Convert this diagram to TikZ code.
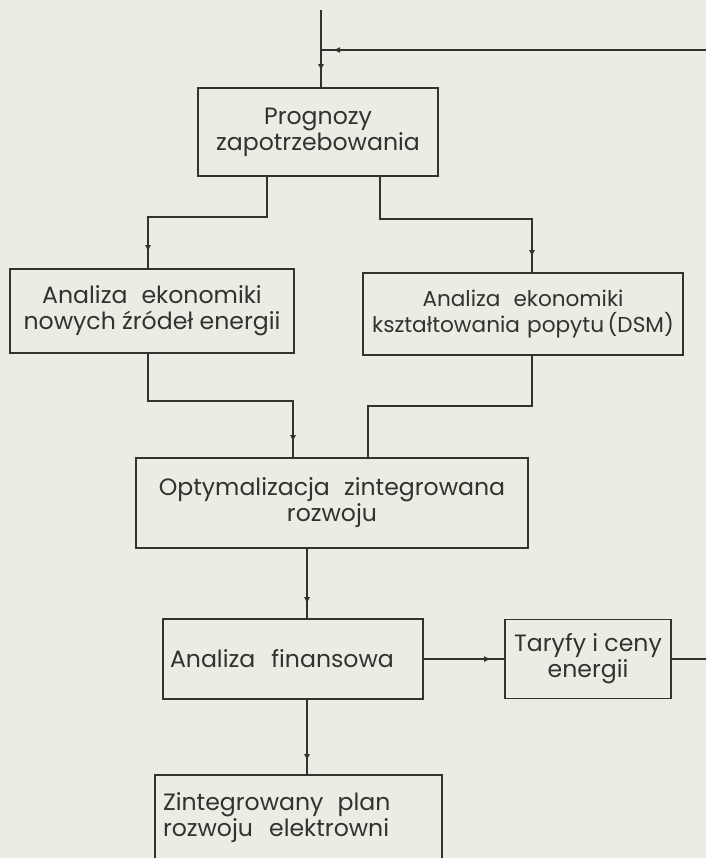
\documentclass[tikz,border=0pt]{standalone}
\usepackage{fontspec}
\setmainfont{Poppins}
\usepackage{xcolor}
\usetikzlibrary{arrows.meta}
\usetikzlibrary{calc, decorations.markings}
\definecolor{paper}{RGB}{236,236,229}
\definecolor{ink}{RGB}{50,50,46}
\newcommand{\wsp}{\hspace{0.6em}}

\tikzset{
box/.style={draw=ink, line width=0.9pt, rectangle, inner sep=2pt, text=ink,
  font=\fontsize{11.8}{13}\selectfont, align=center},
link/.style={draw=ink, line width=0.75pt},
arr/.style={postaction={decorate}, decoration={markings,
  mark=at position -#1 with {\arrow{Latex[length=3.5pt,width=3pt]}}}},
}

\begin{document}
\begin{tikzpicture}[x=0.5pt,y=-0.5pt]
\fill[paper] (0,0) rectangle (706,858);
\clip (0,0) rectangle (706,858);

% boxes
\node[box, minimum width=120pt, minimum height=44pt] (prog) at (318,132) {Prognozy\\zapotrzebowania};
\node[box, minimum width=142pt, minimum height=42pt] (nowe) at (152,311) {Analiza\wsp ekonomiki\\nowych źródeł energii};
\node[box, minimum width=160pt, minimum height=41pt, text width=154pt, font=\fontsize{10.8}{13}\selectfont] (dsm) at (523,314) {Analiza\wsp ekonomiki\\kształtowania popytu\,(DSM)};
\node[box, minimum width=196pt, minimum height=45pt] (opt) at (332,503) {Optymalizacja\wsp zintegrowana\\rozwoju};
\node[box, minimum width=130pt, minimum height=40pt, inner xsep=3.5pt, text width=123pt, align=left] (fin) at (293,659) {Analiza\hspace{0.35em} finansowa};
\node[box, minimum width=83pt, minimum height=39.5pt] (tar) at (588,659) {Taryfy i ceny\\energii};
\node[box, minimum width=143.5pt, minimum height=43pt, inner xsep=4pt, text width=135.5pt, align=left] (plan) at (298.5,818) {Zintegrowany\wsp plan\\rozwoju\hspace{0.35em} elektrowni};

\coordinate (top) at (321,10);
\coordinate (fbA) at (706,50);
\coordinate (fbB) at (706,659);
\coordinate (mid) at ($(fin.north)+(14,0)$);

% connectors
\draw[link, arr=8pt] (top) -- (top |- prog.north);
\draw[link, arr=6pt] (fbA) -- (top |- fbA);
\draw[link, arr=8pt] ($(prog.south)+(-51,0)$) -- ++(0,40) -| ($(nowe.north)+(-4,0)$);
\draw[link, arr=7.5pt] ($(prog.south)+(62,0)$) -- ++(0,42) -| ($(dsm.north)+(9,0)$);
\draw[link, arr=7.5pt] ($(nowe.south)+(-4,0)$) -- ++(0,47) -| ($(opt.north)+(-39,0)$);
\draw[link] ($(dsm.south)+(9,0)$) -- ++(0,50) -| ($(opt.north)+(36,0)$);
\draw[link, arr=7pt] (opt.south -| mid) -- (mid);
\draw[link, arr=6.5pt] (fin.south -| mid) -- (plan.north -| mid);
\draw[link, arr=6.5pt] (fin.east) -- (fin.east -| tar.west);
\draw[link] (tar.east) -- (fbB);

\end{tikzpicture}
\end{document}
